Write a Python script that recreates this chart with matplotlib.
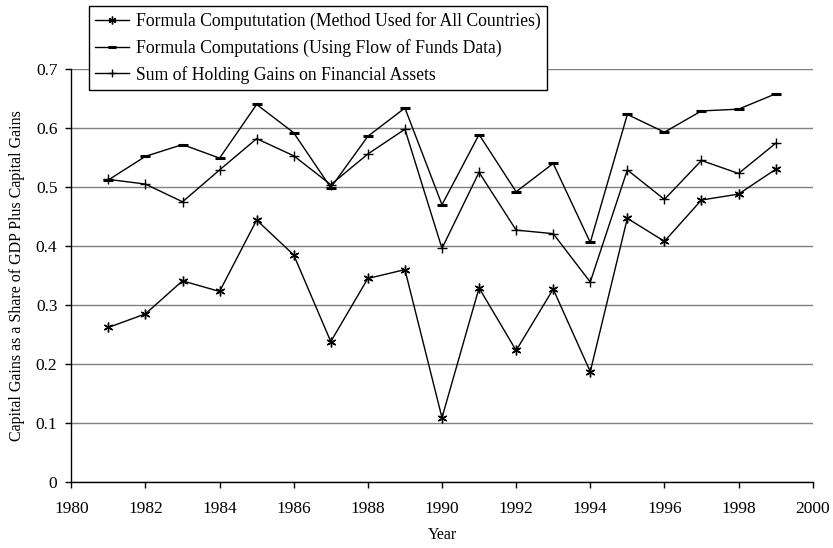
import numpy as np
import matplotlib
matplotlib.use('Agg')
import matplotlib.pyplot as plt

plt.rcParams['font.family'] = ['Liberation Serif', 'DejaVu Serif']

# Data
years = list(range(1981, 2000))
formula_all = [0.262, 0.285, 0.341, 0.323, 0.444, 0.385, 0.238, 0.345, 0.360, 0.109,
               0.329, 0.223, 0.327, 0.187, 0.447, 0.408, 0.478, 0.488, 0.530]
formula_fof = [0.512, 0.552, 0.572, 0.549, 0.640, 0.592, 0.499, 0.586, 0.634, 0.470,
               0.589, 0.492, 0.540, 0.406, 0.623, 0.593, 0.629, 0.632, 0.658]
holding_gains = [0.513, 0.505, 0.475, 0.529, 0.582, 0.553, 0.504, 0.556, 0.598, 0.396,
                 0.525, 0.427, 0.421, 0.339, 0.529, 0.479, 0.545, 0.523, 0.574]

labels = ['Formula Compututation (Method Used for All Countries)',
          'Formula Computations (Using Flow of Funds Data)',
          'Sum of Holding Gains on Financial Assets']

fig = plt.figure(figsize=(8.33, 5.48), dpi=100)
ax = fig.add_axes([0.0856, 0.1204, 0.89, 0.7536])

ax.plot(years, formula_all, color='black', lw=1, marker=(6, 2, 0), ms=7, mew=1,
        label=labels[0])
ax.plot(years, formula_fof, color='black', lw=1, marker='_', ms=7, mew=2.2,
        label=labels[1])
ax.plot(years, holding_gains, color='black', lw=1, marker='+', ms=7, mew=1,
        label=labels[2])

ax.set_xlim(1980, 2000)
ax.set_ylim(0, 0.7)
ax.set_xticks(range(1980, 2001, 2))
ax.set_yticks(np.arange(0, 0.71, 0.1))
ax.set_yticklabels(['0', '0.1', '0.2', '0.3', '0.4', '0.5', '0.6', '0.7'])
ax.yaxis.grid(True, color='#808080', lw=1)
ax.set_axisbelow(True)
for s in ['top', 'right']:
    ax.spines[s].set_visible(False)
for s in ['left', 'bottom']:
    ax.spines[s].set_linewidth(1)
ax.tick_params(direction='out', length=4, width=1, labelsize=12.5)
ax.tick_params(axis='x', pad=10)
ax.tick_params(axis='y', pad=6)

ax.set_xlabel('Year', fontsize=11.5, labelpad=7)
ax.set_ylabel('Capital Gains as a Share of GDP Plus Capital Gains', fontsize=11.5, labelpad=8)

leg = fig.legend(loc='upper left', bbox_to_anchor=(89 / 833, 1 - 6 / 548),
                 fontsize=12.7, frameon=True, fancybox=False, edgecolor='black',
                 framealpha=1, borderpad=0.35, labelspacing=0.5, handlelength=1.9,
                 handletextpad=0.4, borderaxespad=0, markerscale=0.8)
leg.get_frame().set_linewidth(1)

fig.savefig('out.png', dpi=100)
